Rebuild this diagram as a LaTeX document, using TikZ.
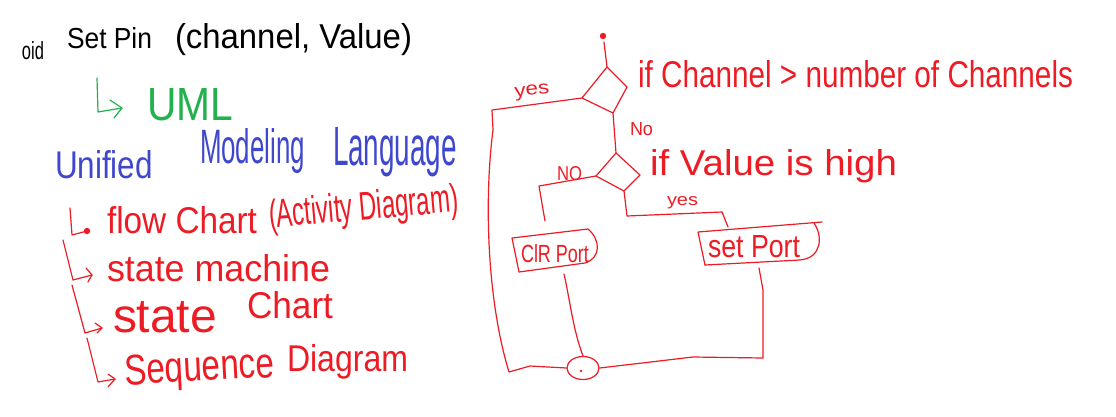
\documentclass[tikz,border=0pt]{standalone}
\usepackage{fontspec}
\setmainfont{Liberation Sans}
\usepackage{graphicx}
\usetikzlibrary{shapes.geometric}
\definecolor{hred}{HTML}{ED1C24}
\definecolor{hgreen}{HTML}{22B14C}
\definecolor{hblue}{HTML}{3F48CC}
\newcommand{\fitt}[3]{\resizebox{#1pt}{#2pt}{#3}}
\begin{document}
\begin{tikzpicture}[x=1pt,y=-1pt,
  txt/.style={inner sep=0pt,outer sep=0pt,anchor=base west},
  pen/.style={line width=1.2pt,line cap=round,line join=round},
  redpen/.style={pen,draw=hred},
]
\useasboundingbox[fill=white] (0,0) rectangle (1116,416);

% ---- black title ----
\node[txt] (oid) at (22,59) {\fitt{22}{18}{oid}};
\node[txt] (setpin) at (67,48) {\fitt{85}{21}{Set Pin}};
\node[txt] (args) at (175,48) {\fitt{237}{25}{(channel, Value)}};

% ---- green UML ----
\coordinate (g1) at (97,78);
\coordinate (g2) at (98,112);
\coordinate (g3) at (122,108);
\draw[pen,draw=hgreen] (g1) -- (g2) -- (g3);
\draw[pen,draw=hgreen] (110,100) -- (g3) -- (114,118);
\node[txt,text=hgreen] (uml) at (147,120) {\fitt{86}{32}{UML}};

% ---- blue ----
\node[txt,text=hblue] (unified) at (55,178) {\fitt{98}{28}{Unified}};
\node[txt,text=hblue] (modeling) at (200,163) {\fitt{105}{35}{Modeling}};
\node[txt,text=hblue] (language) at (333,165) {\fitt{124}{38}{Language}};

% ---- red list ----
\draw[redpen] (70,208) -- (72,235) -- (87,231);
\fill[hred] (87,231) circle (3.2);
\node[txt,text=hred] (flow) at (107,233) {\fitt{150}{27}{flow Chart}};
\node[txt,text=hred,rotate=5] (activity) at (270,228) {\fitt{190}{29}{(Activity Diagram)}};

\draw[redpen] (63,240) -- (73,280) -- (92,275);
\draw[redpen] (86,268) -- (92,275) -- (88,282);
\node[txt,text=hred] (sm) at (107,281) {\fitt{223}{27}{state machine}};

\draw[redpen] (72,285) -- (85,333) -- (102,328);
\draw[redpen] (95,323) -- (102,328) -- (97,333);
\node[txt,text=hred] (st) at (113,332) {\fitt{104}{31}{state}};
\node[txt,text=hred] (chart) at (247,318) {\fitt{86}{27}{Chart}};

\draw[redpen] (87,338) -- (98,382) -- (115,379);
\draw[redpen] (108,374) -- (115,379) -- (108,387);
\node[txt,text=hred,rotate=3] (seq) at (125,385) {\fitt{150}{30}{Sequence}};
\node[txt,text=hred] (diag) at (287,371) {\fitt{121}{27}{Diagram}};

% ---- flowchart ----
\coordinate (start) at (603,36);
\fill[hred] (start) circle (3.2);
\coordinate (d1t) at (607,67);
\coordinate (d1r) at (627,87);
\coordinate (d1b) at (613,113);
\coordinate (d1l) at (582,98);
\draw[redpen] (d1t) -- (d1r) -- (d1b) -- (d1l) -- cycle;
\draw[redpen] (604,42) -- (d1t);

\coordinate (d2t) at (616,153);
\coordinate (d2r) at (640,175);
\coordinate (d2b) at (624,191);
\coordinate (d2l) at (596,176);
\draw[redpen] (d2t) -- (d2r) -- (d2b) -- (d2l) -- cycle;
\draw[redpen] (d1b) -- (d2t);

\node[txt,text=hred,rotate=6] (yes1) at (515,97) {\fitt{35}{10}{yes}};
\node[txt,text=hred] (cond1) at (638,87) {\fitt{435}{27}{if Channel > number of Channels}};
\node[txt,text=hred] (no1) at (630,135) {\fitt{23}{13}{No}};
\node[txt,text=hred] (no2) at (557,180) {\fitt{25}{14}{NO}};
\node[txt,text=hred] (cond2) at (650,175) {\fitt{247}{26}{if Value is high}};
\node[txt,text=hred] (yes2) at (667,205) {\fitt{31}{9}{yes}};

% ClR Port box
\coordinate (c1) at (512,238);
\coordinate (c2) at (588,229);
\coordinate (c3) at (585,263);
\coordinate (c4) at (519,272);
\draw[redpen] (c4) -- (c1) -- (c2) .. controls (601,240) and (601,258) .. (c3) -- (c4);
\node[txt,text=hred] (clr) at (521,262) {\fitt{68}{18}{ClR Port}};

% set Port box
\coordinate (s1) at (698,232);
\coordinate (s2) at (822,222);
\coordinate (s3) at (814,223);
\coordinate (s4) at (800,260);
\coordinate (s5) at (705,265);
\draw[redpen] (s5) -- (s1) -- (s2);
\draw[redpen] (s3) .. controls (823,236) and (822,258) .. (s4) -- (s5);
\node[txt,text=hred] (setport) at (708,257) {\fitt{92}{22}{set Port}};

% merge
\node[draw=hred,line width=1.2pt,ellipse,minimum width=32pt,minimum height=23pt,inner sep=0pt] (merge) at (583,368) {};
\fill[hred] (581,371) circle (1.3);

% connectors
\draw[redpen] (d1l) -- (492,110) -- (493,130) .. controls (484,200) and (487,300) .. (509,372) -- (530,366) -- (merge.west);
\draw[redpen] (d2l) -- (539,186) -- (545,221);
\draw[redpen] (d2b) -- (627,216) -- (722,212) -- (728,227);
\draw[redpen] (564,274) .. controls (570,300) and (573,330) .. (merge.north);
\draw[redpen] (759,268) -- (763,290) -- (763,358) -- (693,357) -- (merge.east);
\end{tikzpicture}
\end{document}
